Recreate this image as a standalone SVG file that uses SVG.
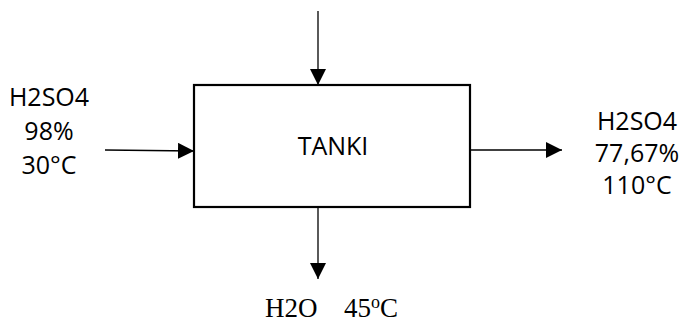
<svg xmlns="http://www.w3.org/2000/svg" width="683" height="322" viewBox="0 0 683 322">
<defs>
<style>
.lbl{font-family:"Open Sans","Liberation Sans",sans-serif;font-size:25px;fill:#000;text-anchor:middle}
.ser{font-family:"Liberation Serif","Times New Roman",serif;font-size:27px;fill:#000}
.ln{stroke:#000;stroke-width:1.3;fill:none}
</style>
<marker id="ah" markerUnits="userSpaceOnUse" markerWidth="16" markerHeight="16" viewBox="0 0 14 14" refX="14" refY="7" orient="auto">
<path d="M0,0 L14,7 L0,14 Z" fill="#000"/>
</marker>
</defs>
<rect width="683" height="322" fill="#fff"/>
<g id="tanki">
<rect x="194" y="85" width="276" height="122" fill="#fff" stroke="#000" stroke-width="2.2"/>
<text class="lbl" x="333" y="155">TANKI</text>
</g>
<g id="in-left">
<text class="lbl" x="49" y="106">H2SO4</text>
<text class="lbl" x="49" y="140">98%</text>
<text class="lbl" x="49" y="174">30°C</text>
</g>
<g id="out-right">
<text class="lbl" x="637" y="130">H2SO4</text>
<text class="lbl" x="637" y="162">77,67%</text>
<text class="lbl" x="637" y="194">110°C</text>
</g>
<g id="out-bottom">
<text class="ser" x="265" y="317">H2O</text>
<text class="ser" x="344" y="317">45<tspan font-size="18" dy="-9">o</tspan><tspan dy="9">C</tspan></text>
</g>
<g id="connectors">
<line class="ln" x1="318" y1="11" x2="318" y2="85" marker-end="url(#ah)"/>
<line class="ln" x1="105" y1="150" x2="194" y2="151" marker-end="url(#ah)"/>
<line class="ln" x1="470" y1="150" x2="562" y2="150" marker-end="url(#ah)"/>
<line class="ln" x1="318" y1="207" x2="318" y2="279" marker-end="url(#ah)"/>
</g>
</svg>
